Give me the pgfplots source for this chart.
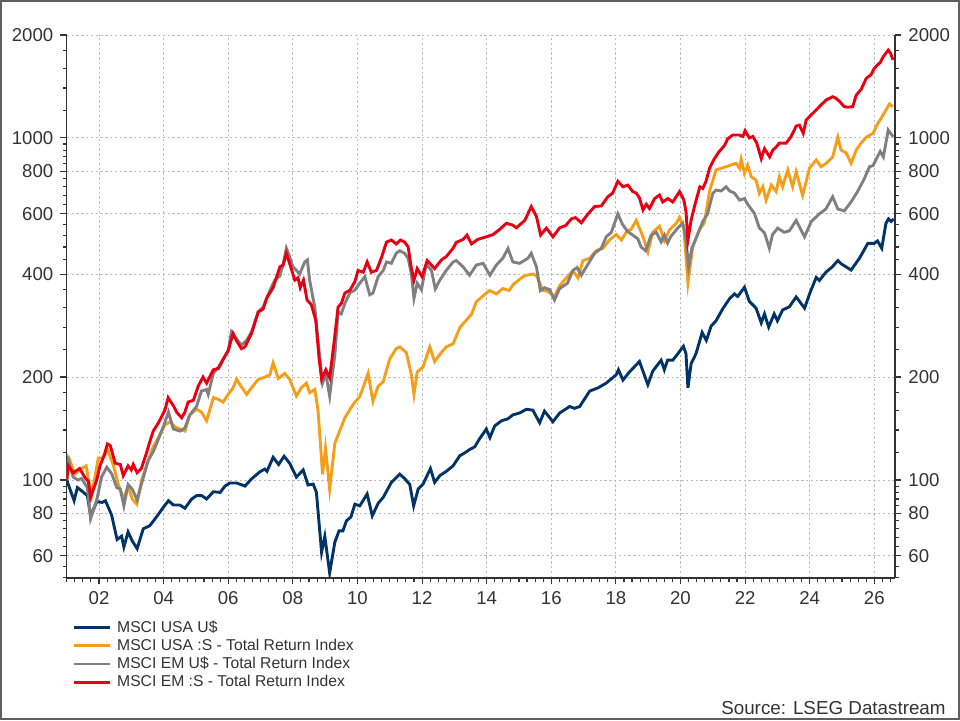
\documentclass[border=0pt]{standalone}
\usepackage{fontspec}
\setmainfont{Liberation Sans}
\usepackage{pgfplots}
\pgfplotsset{compat=1.18}
\definecolor{cnavy}{RGB}{0,51,102}
\definecolor{corange}{RGB}{245,158,25}
\definecolor{cgray}{RGB}{128,128,128}
\definecolor{cred}{RGB}{232,0,18}
\definecolor{textgray}{RGB}{51,51,51}
\definecolor{gridgray}{RGB}{190,190,190}
\definecolor{framegray}{RGB}{95,95,95}
\pgfplotsset{
  common/.style={
    at={(33.35pt,71pt)}, anchor=south west, scale only axis,
    width=414.15pt, height=271.5pt,
    xmin=2001.0, xmax=2026.64, ymin=51.7, ymax=2000,
    ytick={60,80,100,200,400,600,800,1000,2000},
    yticklabels={60,80,100,200,400,600,800,1000,2000},
    minor ytick={52,56,64,68,72,76,84,88,92,96,120,140,160,180,240,280,320,360,440,480,520,560,640,680,720,760,840,880,920,960,1200,1400,1600,1800},
    tick align=outside,
    major tick length=3.2pt, minor tick length=1.9pt,
    tick style={textgray, line width=0.55pt},
    axis line style={textgray, line width=0.6pt},
    tick label style={font=\fontsize{9.3}{11}\selectfont, text=textgray},
  }
}
\begin{document}
\begin{tikzpicture}
\useasboundingbox (0,0) rectangle (480pt,360pt);
\draw[framegray,line width=1.1pt] (0.55pt,0.55pt) rectangle (479.45pt,359.45pt);
\begin{axis}[ymode=log, common,
  axis x line*=bottom, axis y line*=left,
  xtick={2002,2004,...,2026},
  xticklabels={02,04,06,08,10,12,14,16,18,20,22,24,26},
  minor xtick={2001,2001.25,...,2026.5},
  grid=major,
  major grid style={gridgray, dash pattern=on 1.2pt off 1.2pt, line width=0.45pt},
  legend cell align=left,
  legend style={at={(-0.0005,-0.0665)}, anchor=north west, draw=none, fill=none,
    font=\fontsize{7.85}{9}\selectfont, text=textgray,
    nodes={text height=6pt, text depth=1.5pt, inner sep=0.8pt},
    /tikz/every odd column/.append style={column sep=2pt}},
  legend image code/.code={\draw[#1] (0pt,0pt) -- (18pt,0pt);},
  every axis plot/.append style={line width=1.45pt},
]
\addplot[cnavy] table {
2001.00 100
2001.23 87
2001.33 95
2001.46 93
2001.64 90
2001.74 78.6
2001.93 86.4
2002.10 86
2002.20 87
2002.39 79
2002.56 67
2002.70 68.5
2002.77 63.7
2002.90 70.5
2003.03 66.3
2003.18 63
2003.37 72
2003.57 73.5
2003.78 78
2004.00 83.4
2004.15 87
2004.30 84.5
2004.50 84.5
2004.66 82.7
2004.87 88
2005.02 90
2005.18 90
2005.33 88
2005.54 92.4
2005.75 92
2005.90 96
2006.05 98
2006.26 98
2006.52 96
2006.72 100.7
2006.98 105.7
2007.13 107.6
2007.20 106
2007.39 116.5
2007.56 111
2007.73 117.3
2007.90 112
2008.11 102
2008.32 107
2008.47 96.7
2008.63 97.3
2008.73 92
2008.89 61.5
2008.99 68.4
2009.14 53.5
2009.30 65.8
2009.43 71
2009.55 71
2009.66 76
2009.80 78
2009.92 85
2010.07 84
2010.30 91
2010.46 78.6
2010.64 85.5
2010.80 89
2011.05 98.4
2011.31 104
2011.46 101
2011.62 97
2011.74 84
2011.88 94.1
2012.03 97.3
2012.26 108
2012.39 98.4
2012.55 103
2012.75 106
2012.96 110
2013.17 117.8
2013.32 120
2013.47 122.7
2013.63 125
2013.78 132
2013.99 141
2014.10 133
2014.25 144
2014.46 149
2014.66 151
2014.81 155
2015.02 157
2015.23 161
2015.43 160
2015.64 147
2015.79 159
2016.05 148
2016.26 157
2016.57 164
2016.72 162
2016.88 164
2017.19 182
2017.45 186
2017.70 192
2018.01 203
2018.08 210
2018.22 196
2018.42 207
2018.73 222
2018.99 190
2019.14 208
2019.40 224
2019.50 210
2019.60 224
2019.76 224
2019.92 234
2020.09 246
2020.17 234
2020.23 186
2020.33 219
2020.48 234
2020.67 270
2020.80 256
2020.95 282
2021.10 292
2021.31 317
2021.52 339
2021.67 350
2021.77 344
2021.98 366
2022.13 333
2022.34 318
2022.50 288
2022.60 306
2022.73 280
2022.90 306
2023.00 292
2023.16 314
2023.37 321
2023.58 343
2023.84 318
2024.00 351
2024.20 391
2024.30 383
2024.50 405
2024.70 420
2024.87 438
2024.97 429
2025.28 411
2025.54 445
2025.80 492
2026.00 492
2026.10 500
2026.23 476
2026.36 563
2026.44 580
2026.52 570
2026.60 580
};
\addlegendentry{MSCI USA U\$}
\addplot[corange] table {
2001.00 100
2001.10 114
2001.25 104
2001.46 108
2001.60 110
2001.77 90
2001.98 116
2002.10 116
2002.28 122
2002.45 110
2002.60 97
2002.76 88
2002.90 96
2003.03 88
2003.17 85
2003.32 100
2003.47 110
2003.68 125
2003.89 136
2004.04 145
2004.20 148
2004.35 143
2004.50 141
2004.66 139
2004.81 155
2005.02 161
2005.17 158
2005.33 149
2005.54 174
2005.70 172
2005.84 169
2006.00 178
2006.15 186
2006.26 197
2006.41 187
2006.57 178
2006.72 186
2006.93 197
2007.14 200
2007.29 203
2007.39 220
2007.55 198
2007.75 205
2007.90 197
2008.11 176
2008.26 186
2008.42 192
2008.52 180
2008.68 184
2008.78 160
2008.92 104
2009.01 124
2009.14 94
2009.30 128
2009.46 140
2009.61 152
2009.77 161
2009.92 169
2010.07 175
2010.33 205
2010.48 170
2010.64 188
2010.80 194
2011.00 226
2011.20 242
2011.31 245
2011.51 236
2011.67 203
2011.75 178
2011.85 207
2012.03 214
2012.24 245
2012.39 222
2012.55 233
2012.75 245
2012.96 250
2013.17 279
2013.42 297
2013.53 305
2013.68 332
2014.00 353
2014.09 358
2014.30 350
2014.50 363
2014.70 358
2014.81 372
2015.12 393
2015.23 397
2015.43 400
2015.55 395
2015.74 358
2015.90 356
2016.10 344
2016.26 370
2016.52 395
2016.67 408
2016.83 390
2016.98 438
2017.19 445
2017.39 468
2017.60 476
2017.80 503
2018.01 522
2018.17 503
2018.34 534
2018.47 540
2018.63 574
2018.84 514
2018.99 464
2019.14 530
2019.35 552
2019.50 500
2019.66 539
2019.87 563
2019.97 586
2020.10 550
2020.23 377
2020.38 480
2020.58 539
2020.74 565
2020.90 700
2021.10 806
2021.41 824
2021.72 843
2021.83 815
2021.88 866
2021.98 788
2022.08 833
2022.19 770
2022.34 753
2022.44 689
2022.55 720
2022.65 658
2022.81 728
2022.96 697
2023.06 770
2023.16 720
2023.32 806
2023.47 720
2023.58 797
2023.78 680
2023.89 745
2023.99 815
2024.20 862
2024.35 824
2024.51 843
2024.71 880
2024.87 1005
2024.97 922
2025.13 904
2025.28 843
2025.44 922
2025.59 966
2025.75 1005
2025.96 1032
2026.11 1104
2026.21 1141
2026.36 1207
2026.47 1257
2026.57 1234
};
\addlegendentry{MSCI USA :S - Total Return Index}
\addplot[cgray] table {
2001.00 100
2001.05 114
2001.20 102
2001.35 100
2001.46 101
2001.64 95
2001.74 77
2001.93 87.4
2002.08 102
2002.24 109
2002.40 104
2002.55 95
2002.66 94
2002.77 84
2002.90 97
2003.03 94
2003.18 87.4
2003.31 97
2003.52 114
2003.68 121
2003.83 131
2004.00 144
2004.15 158
2004.30 141
2004.51 139
2004.66 142
2004.81 155
2005.02 164
2005.17 182
2005.33 184
2005.38 178
2005.54 205
2005.70 214
2005.85 226
2006.00 239
2006.10 271
2006.26 258
2006.41 248
2006.57 256
2006.72 271
2006.93 310
2007.08 320
2007.29 358
2007.44 384
2007.60 395
2007.70 428
2007.80 476
2007.90 450
2008.00 420
2008.11 410
2008.21 400
2008.37 434
2008.45 440
2008.52 384
2008.68 320
2008.78 255
2008.92 192
2009.02 205
2009.14 176
2009.30 232
2009.40 310
2009.50 306
2009.61 328
2009.77 353
2009.92 359
2010.07 376
2010.23 393
2010.38 348
2010.48 352
2010.64 393
2010.80 410
2010.90 434
2011.05 430
2011.20 460
2011.31 468
2011.46 460
2011.57 445
2011.67 400
2011.75 340
2011.85 376
2011.98 360
2012.13 428
2012.29 410
2012.41 362
2012.55 384
2012.75 410
2012.96 434
2013.06 438
2013.27 420
2013.47 397
2013.68 425
2013.89 430
2014.10 397
2014.30 425
2014.50 445
2014.66 475
2014.81 434
2015.02 430
2015.28 445
2015.38 460
2015.54 420
2015.66 358
2015.79 365
2015.95 360
2016.10 336
2016.26 363
2016.50 376
2016.67 410
2016.80 418
2016.93 397
2017.14 428
2017.34 460
2017.55 476
2017.70 514
2017.86 530
2018.06 600
2018.20 560
2018.37 532
2018.52 520
2018.68 507
2018.78 480
2018.92 468
2019.00 490
2019.09 520
2019.25 530
2019.40 497
2019.50 520
2019.60 493
2019.70 515
2019.92 546
2020.07 563
2020.17 505
2020.25 420
2020.35 476
2020.53 522
2020.69 570
2020.84 600
2021.00 689
2021.10 704
2021.26 700
2021.41 720
2021.52 700
2021.67 690
2021.83 658
2021.98 665
2022.08 640
2022.29 601
2022.44 546
2022.60 528
2022.75 476
2022.85 522
2023.01 545
2023.21 530
2023.37 535
2023.58 574
2023.84 514
2024.05 570
2024.30 600
2024.50 620
2024.71 673
2024.87 620
2025.07 612
2025.28 650
2025.48 697
2025.69 760
2025.85 824
2025.96 830
2026.18 913
2026.28 880
2026.43 1055
2026.58 1008
};
\addlegendentry{MSCI EM U\$ - Total Return Index}
\addplot[cred] table {
2001.00 100
2001.05 110
2001.20 105
2001.40 108
2001.57 101.5
2001.67 99
2001.74 89
2001.93 100
2002.03 110
2002.16 118
2002.26 127.5
2002.35 126
2002.50 112
2002.66 111
2002.75 103
2002.90 110
2003.00 107
2003.06 111
2003.18 105
2003.31 108
2003.47 120
2003.58 130
2003.68 139
2003.84 147
2004.04 160
2004.14 174
2004.30 165
2004.40 158
2004.56 152
2004.66 158
2004.76 169
2004.92 171
2005.07 188
2005.22 200
2005.33 192
2005.54 210
2005.70 212
2005.85 226
2006.00 239
2006.15 268
2006.26 255
2006.41 242
2006.52 245
2006.72 268
2006.93 310
2007.08 316
2007.19 340
2007.39 365
2007.60 420
2007.70 425
2007.80 460
2007.95 415
2008.06 384
2008.16 390
2008.23 365
2008.33 384
2008.44 336
2008.57 326
2008.71 293
2008.81 228
2008.89 197
2009.02 210
2009.14 199
2009.27 250
2009.40 320
2009.50 328
2009.61 352
2009.77 359
2009.92 380
2010.02 410
2010.18 405
2010.30 434
2010.43 405
2010.59 410
2010.74 446
2010.90 496
2011.05 503
2011.20 490
2011.33 503
2011.46 496
2011.57 480
2011.67 415
2011.75 384
2011.85 415
2012.00 393
2012.16 438
2012.39 415
2012.60 440
2012.75 450
2012.96 476
2013.06 495
2013.27 505
2013.39 520
2013.53 490
2013.72 505
2013.99 514
2014.20 522
2014.40 540
2014.61 563
2014.81 556
2014.92 546
2015.18 574
2015.38 630
2015.54 590
2015.67 520
2015.85 545
2016.05 514
2016.26 546
2016.45 555
2016.62 580
2016.75 585
2016.93 565
2017.14 600
2017.34 630
2017.55 633
2017.75 673
2017.90 690
2018.06 747
2018.22 720
2018.37 728
2018.52 697
2018.63 690
2018.73 668
2018.84 616
2018.94 640
2019.04 622
2019.20 665
2019.35 681
2019.45 650
2019.61 665
2019.76 650
2019.97 697
2020.10 660
2020.17 610
2020.23 503
2020.33 575
2020.45 640
2020.60 720
2020.69 712
2020.79 747
2020.90 815
2021.05 870
2021.20 913
2021.36 950
2021.46 994
2021.62 1020
2021.82 1020
2021.93 1010
2022.00 1050
2022.13 1000
2022.24 1010
2022.36 966
2022.50 870
2022.60 930
2022.76 880
2022.86 922
2022.96 940
2023.06 966
2023.27 966
2023.42 1008
2023.58 1083
2023.68 1090
2023.80 1032
2023.89 1128
2024.04 1167
2024.20 1207
2024.35 1249
2024.51 1291
2024.71 1320
2024.81 1306
2024.92 1280
2025.07 1234
2025.18 1230
2025.33 1234
2025.44 1334
2025.59 1386
2025.75 1494
2025.90 1530
2026.00 1598
2026.11 1640
2026.18 1660
2026.28 1730
2026.43 1807
2026.50 1770
2026.58 1690
};
\addlegendentry{MSCI EM :S - Total Return Index}
\end{axis}
\begin{axis}[ymode=log, common,
  axis x line=none, axis y line*=right,
]
\addplot[draw=none] coordinates {(2010,100)};
\end{axis}
\node[anchor=base east, inner sep=0pt, font=\fontsize{9.4}{11}\selectfont, text=textgray] at (473pt,2.6pt) {Source: LSEG Datastream};
\end{tikzpicture}
\end{document}
